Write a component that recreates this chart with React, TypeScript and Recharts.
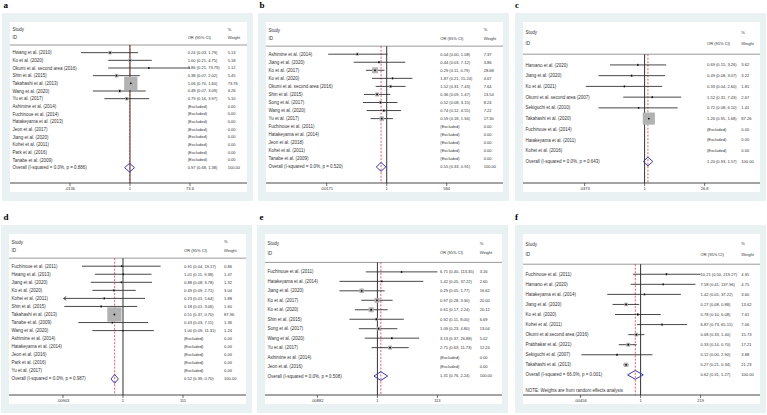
import React from 'react';
import { ComposedChart, XAxis, YAxis, Scatter, ReferenceLine } from 'recharts';

// ---------------- Panel a ----------------
const aStudies = ['Hwang et al. (2010)', 'Ko et al. (2020)', 'Okumi et al. second area (2016)', 'Shin et al. (2015)', 'Takahashi et al. (2013)', 'Wang et al. (2020)', 'Yu et al. (2017)', 'Ashimine et al. (2014)', 'Fuchinoue et al. (2014)', 'Hatakeyama et al. (2013)', 'Jeon et al. (2017)', 'Jiang et al. (2020)', 'Kohei et al. (2011)', 'Park et al. (2016)', 'Tanabe et al. (2009)'];
const aOR = [0.24, 1.0, 3.86, 0.38, 1.06, 0.48, 0.79];
const aLow = [0.03, 0.21, 0.21, 0.07, 0.7, 0.07, 0.16];
const aHigh = [1.79, 4.75, 73.79, 2.02, 1.6, 3.09, 3.97];
const aWeight = [5.13, 5.18, 1.12, 5.45, 73.76, 4.26, 5.1];
const aOverall = [0.97, 0.68, 1.38];
const aOverallLabel = 'Overall  (I-squared = 0.0%, p = 0.886)';
const aTicks = [0.0136, 1, 73.6];
const aTickLabels = ['.0136', '1', '73.6'];

// ---------------- Panel b ----------------
const bStudies = ['Ashimine et al. (2014)', 'Jiang et al. (2020)', 'Ko et al. (2017)', 'Ko et al. (2020)', 'Okumi et al. second area (2016)', 'Shin et al. (2015)', 'Song et al. (2017)', 'Wang et al. (2020)', 'Yu et al. (2017)', 'Fuchinoue et al. (2011)', 'Hatakeyama et al. (2014)', 'Jeon et al. (2018)', 'Kohei et al. (2011)', 'Tanabe et al. (2009)'];
const bOR = [0.044, 0.44, 0.29, 1.87, 1.52, 0.36, 0.52, 0.74, 0.59];
const bLow = [0.002, 0.03, 0.11, 0.21, 0.31, 0.09, 0.08, 0.12, 0.18];
const bHigh = [1.08, 7.12, 0.79, 15.24, 7.43, 1.47, 3.15, 4.55, 1.94];
const bWeight = [7.37, 3.86, 28.68, 4.67, 7.64, 13.54, 8.24, 7.22, 17.3];
const bOverall = [0.55, 0.33, 0.91];
const bOverallLabel = 'Overall  (I-squared = 0.0%, p = 0.520)';
const bTicks = [0.00171, 1, 584];
const bTickLabels = ['.00171', '1', '584'];

// ---------------- Panel c ----------------
const cStudies = ['Hamano et al. (2020)', 'Jiang et al. (2020)', 'Ko et al. (2021)', 'Okumi et al. second area (2007)', 'Sekiguchi et al. (2010)', 'Takahashi et al. (2020)', 'Fuchinoue et al. (2014)', 'Hatakeyama et al. (2011)', 'Kohei et al. (2016)'];
const cOR = [0.69, 0.49, 0.33, 1.52, 0.72, 1.26];
const cLow = [0.15, 0.08, 0.04, 0.31, 0.08, 0.95];
const cHigh = [3.26, 3.07, 2.6, 7.43, 6.1, 1.68];
const cWeight = [3.62, 3.22, 1.81, 2.67, 1.41, 87.26];
const cOverall = [1.2, 0.93, 1.57];
const cOverallLabel = 'Overall  (I-squared = 0.0%, p = 0.643)';
const cTicks = [0.0373, 1, 26.8];
const cTickLabels = ['.0373', '1', '26.8'];

// ---------------- Panel d ----------------
const dStudies = ['Fuchinoue et al. (2011)', 'Hwang et al. (2013)', 'Jiang et al. (2020)', 'Ko et al. (2020)', 'Kohei et al. (2011)', 'Shin et al. (2015)', 'Takahashi et al. (2013)', 'Tanabe et al. (2009)', 'Wang et al. (2020)', 'Ashimine et al. (2014)', 'Hatakeyama et al. (2014)', 'Jeon et al. (2016)', 'Park et al. (2016)', 'Yu et al. (2017)'];
const dOR = [0.91, 1.01, 0.88, 0.49, 0.23, 0.18, 0.51, 0.43, 1.0];
const dLow = [0.04, 0.11, 0.08, 0.09, 0.0095, 0.01, 0.37, 0.03, 0.09];
const dHigh = [19.17, 9.38, 9.78, 2.71, 5.64, 3.06, 0.7, 7.11, 11.31];
const dWeight = [0.86, 1.47, 1.32, 3.04, 1.88, 1.6, 87.96, 1.36, 1.24];
const dOverall = [0.52, 0.39, 0.7];
const dOverallLabel = 'Overall  (I-squared = 0.0%, p = 0.987)';
const dTicks = [0.00903, 1, 111];
const dTickLabels = ['.00903', '1', '111'];
const dArrowLeft = [4];

// ---------------- Panel e ----------------
const eStudies = ['Fuchinoue et al. (2011)', 'Hatakeyama et al. (2014)', 'Jiang et al. (2020)', 'Ko et al. (2017)', 'Ko et al. (2020)', 'Shin et al. (2015)', 'Song et al. (2017)', 'Wang et al. (2020)', 'Yu et al. (2017)', 'Ashimine et al. (2014)', 'Jeon et al. (2016)'];
const eOR = [6.71, 1.42, 0.29, 0.97, 0.61, 0.92, 1.09, 3.13, 2.71];
const eLow = [0.4, 0.05, 0.05, 0.28, 0.17, 0.11, 0.23, 0.37, 0.63];
const eHigh = [113.35, 37.22, 1.77, 3.3, 2.24, 8.0, 4.8, 26.88, 11.73];
const eWeight = [3.16, 2.6, 16.62, 20.0, 20.12, 6.69, 13.04, 5.02, 12.24];
const eOverall = [1.31, 0.76, 2.24];
const eOverallLabel = 'Overall  (I-squared = 0.0%, p = 0.508)';
const eTicks = [0.00882, 1, 113];
const eTickLabels = ['.00882', '1', '113'];

// ---------------- Panel f ----------------
const fStudies = ['Fuchinoue et al. (2011)', 'Hamano et al. (2020)', 'Hatakeyama et al. (2014)', 'Jiang et al. (2020)', 'Ko et al. (2020)', 'Kohei et al. (2011)', 'Okumi et al.second area (2016)', 'Prabhakar et al. (2021)', 'Sekiguchi et al. (2007)', 'Takahashi et al. (2013)'];
const fOR = [10.21, 7.58, 1.42, 0.27, 0.78, 6.87, 0.68, 0.33, 0.12, 0.27];
const fLow = [0.5, 0.41, 0.05, 0.08, 0.1, 0.73, 0.33, 0.14, 0.0049, 0.21];
const fHigh = [219.27, 137.96, 37.22, 0.88, 6.08, 65.15, 1.4, 0.7, 2.9, 0.34];
const fWeight = [4.95, 4.75, 3.6, 13.62, 7.61, 7.06, 15.73, 17.21, 3.88, 21.23];
const fOverall = [0.62, 0.31, 1.27];
const fOverallLabel = 'Overall  (I-squared = 66.0%, p = 0.001)';
const fTicks = [0.00456, 1, 219];
const fTickLabels = ['.00456', '1', '219'];
const fNote = 'NOTE: Weights are from random effects analysis';

// ---------------- styles ----------------
const FONT = '"Liberation Sans", Arial, Helvetica, sans-serif';
const BG = '#eaf1f3';
const TXT = '#333333';
const LINE = '#333333';
const FS_NAME = 4.5;
const FS_NUM = 4.05;
const WHITE_W = 237;
const WHITE_H = 170;
const AXIS_H = 9;
const PLOT_H = WHITE_H - AXIS_H;
const NAME_X = 2.5;

type Spec = {
  letter: string; letterX: number; letterY: number;
  whiteLeft: number; whiteTop: number;
  studies: string[]; or: number[]; low: number[]; high: number[]; weight: number[];
  overall: number[]; overallLabel: string; ticks: number[]; tickLabels: string[];
  nullX: number; orX: number; wX: number; boxScale: number;
  note?: string; arrowLeft?: number[];
};

const SPECS: Spec[] = [
  { letter: 'a', letterX: 3.5, letterY: 0.5, whiteLeft: 10, whiteTop: 21.7, studies: aStudies, or: aOR, low: aLow, high: aHigh, weight: aWeight, overall: aOverall, overallLabel: aOverallLabel, ticks: aTicks, tickLabels: aTickLabels, nullX: 120, orX: 177.7, wX: 217.7, boxScale: 1.55 },
  { letter: 'b', letterX: 259.5, letterY: 0.5, whiteLeft: 266, whiteTop: 21.7, studies: bStudies, or: bOR, low: bLow, high: bHigh, weight: bWeight, overall: bOverall, overallLabel: bOverallLabel, ticks: bTicks, tickLabels: bTickLabels, nullX: 120.7, orX: 174.3, wX: 217.7, boxScale: 1.1 },
  { letter: 'c', letterX: 515, letterY: 0.5, whiteLeft: 522.7, whiteTop: 21.7, studies: cStudies, or: cOR, low: cLow, high: cHigh, weight: cWeight, overall: cOverall, overallLabel: cOverallLabel, ticks: cTicks, tickLabels: cTickLabels, nullX: 121.6, orX: 184, wX: 218.3, boxScale: 1.3 },
  { letter: 'd', letterX: 3.5, letterY: 212.5, whiteLeft: 9.3, whiteTop: 233.7, studies: dStudies, or: dOR, low: dLow, high: dHigh, weight: dWeight, overall: dOverall, overallLabel: dOverallLabel, ticks: dTicks, tickLabels: dTickLabels, nullX: 114, orX: 175, wX: 215, boxScale: 1.52, arrowLeft: dArrowLeft },
  { letter: 'e', letterX: 259.5, letterY: 213, whiteLeft: 265.3, whiteTop: 234.3, studies: eStudies, or: eOR, low: eLow, high: eHigh, weight: eWeight, overall: eOverall, overallLabel: eOverallLabel, ticks: eTicks, tickLabels: eTickLabels, nullX: 112.4, orX: 175, wX: 214.7, boxScale: 1.12 },
  { letter: 'f', letterX: 515, letterY: 213, whiteLeft: 522.7, whiteTop: 234, studies: fStudies, or: fOR, low: fLow, high: fHigh, weight: fWeight, overall: fOverall, overallLabel: fOverallLabel, ticks: fTicks, tickLabels: fTickLabels, nullX: 117.6, orX: 177.6, wX: 218.3, boxScale: 0.95, note: fNote },
];

const fmtCI = (o: number, l: number, h: number) => `${o.toFixed(2)} (${l.toFixed(2)}, ${h.toFixed(2)})`;

type Row = { name?: string; ci?: string; w?: string };

function Panel({ s }: { s: Spec }) {
  const n = s.studies.length;
  const yMax = n + 2;
  const leftW = s.nullX - 60;
  const rightW = WHITE_W - s.nullX - 60;
  const rowH = PLOT_H / (yMax + 4);
  const dHalf = 4.4 / rowH;

  const rows = new Map<string, Row>();
  rows.set('-3', { name: 'Study', w: '%' });
  rows.set('-2', { name: 'ID', ci: 'OR (95% CI)', w: 'Weight' });
  s.studies.forEach((name, i) => {
    const has = i < s.or.length;
    rows.set(String(i), {
      name,
      ci: has ? fmtCI(s.or[i], s.low[i], s.high[i]) : '(Excluded)',
      w: has ? s.weight[i].toFixed(2) : '0.00',
    });
  });
  rows.set(String(n), { name: s.overallLabel, ci: fmtCI(s.overall[0], s.overall[1], s.overall[2]), w: '100.00' });
  if (s.note) rows.set(String(n + 1.5), { name: s.note });
  const rowTicks = Array.from(rows.keys()).map(Number);

  const boxData = s.or.map((v, i) => ({ x: v, y: i, w: s.weight[i] }));
  const diamond = [
    { x: s.overall[1], y: n },
    { x: s.overall[0], y: n - dHalf },
    { x: s.overall[2], y: n },
    { x: s.overall[0], y: n + dHalf },
    { x: s.overall[1], y: n },
  ];
  const arrows = (s.arrowLeft || []).map((i) => ({ x: s.low[i], y: i }));

  const leftTick = (p: any) => {
    const r = rows.get(String(p.payload.value));
    if (!r || !r.name) return <g />;
    return (
      <text x={NAME_X} y={p.y} dy="0.35em" fontSize={FS_NAME} fill={TXT} fontFamily={FONT} textAnchor="start">{r.name}</text>
    );
  };
  const rightTick = (p: any) => {
    const r = rows.get(String(p.payload.value));
    if (!r) return <g />;
    return (
      <g>
        {r.ci && <text x={s.orX} y={p.y} dy="0.35em" fontSize={FS_NUM} fill={TXT} fontFamily={FONT} textAnchor="start">{r.ci}</text>}
        {r.w && <text x={s.wX} y={p.y} dy="0.35em" fontSize={FS_NUM} fill={TXT} fontFamily={FONT} textAnchor="start">{r.w}</text>}
      </g>
    );
  };
  const tickFmt = (v: number) => {
    let best = 0;
    s.ticks.forEach((t, i) => { if (Math.abs(Math.log(t) - Math.log(v)) < Math.abs(Math.log(s.ticks[best]) - Math.log(v))) best = i; });
    return s.tickLabels[best];
  };

  const boxShape = (p: any) => {
    const size = s.boxScale * Math.sqrt(p.payload.w);
    return <rect x={p.cx - size / 2} y={p.cy - size / 2} width={size} height={size} fill="#b2b2b2" />;
  };
  const dotShape = (p: any) => <circle cx={p.cx} cy={p.cy} r={0.9} fill="#000" />;
  const arrowShape = (p: any) => (
    <path d={`M${p.cx + 2.6},${p.cy - 1.9} L${p.cx},${p.cy} L${p.cx + 2.6},${p.cy + 1.9}`} stroke={LINE} strokeWidth={0.9} fill="none" />
  );

  return (
    <>
      <div style={{ position: 'absolute', left: s.whiteLeft - 8, top: s.whiteTop - 9, width: 251, height: 188, background: BG }} />
      <div style={{ position: 'absolute', left: s.whiteLeft, top: s.whiteTop, width: WHITE_W, height: WHITE_H, background: '#fff', overflow: 'hidden' }}>
        <ComposedChart width={WHITE_W} height={WHITE_H} margin={{ top: 0, right: 0, bottom: 0, left: 0 }}>
          <XAxis
            type="number" dataKey="x" scale="log" domain={[s.ticks[0], s.ticks[2]]} allowDataOverflow
            ticks={s.ticks} interval={0} tickFormatter={tickFmt} axisLine={false}
            tickSize={3} tickMargin={1} tickLine={{ stroke: LINE, strokeWidth: 0.7 }}
            tick={{ fontSize: FS_NUM, fill: TXT, fontFamily: FONT }} height={AXIS_H}
          />
          <YAxis yAxisId="l" type="number" dataKey="y" domain={[-4, yMax]} reversed allowDataOverflow
            ticks={rowTicks} interval={0} width={leftW} axisLine={false} tickLine={false} tick={leftTick} />
          <YAxis yAxisId="r" orientation="right" type="number" dataKey="y" domain={[-4, yMax]} reversed allowDataOverflow
            ticks={rowTicks} interval={0} width={rightW} axisLine={false} tickLine={false} tick={rightTick} />

          <ReferenceLine yAxisId="l" segment={[{ x: 1e-12, y: -1 }, { x: 1e12, y: -1 }]} stroke="#555" strokeWidth={0.6} ifOverflow="visible" />
          <ReferenceLine yAxisId="l" segment={[{ x: 1e-12, y: yMax }, { x: 1e12, y: yMax }]} stroke={LINE} strokeWidth={0.9} ifOverflow="visible" />

          <Scatter yAxisId="l" data={boxData} shape={boxShape} isAnimationActive={false} />

          <ReferenceLine yAxisId="l" segment={[{ x: 1, y: -1 }, { x: 1, y: yMax }]} stroke={LINE} strokeWidth={1} ifOverflow="visible" />
          <ReferenceLine yAxisId="l" segment={[{ x: s.overall[0], y: -1 }, { x: s.overall[0], y: yMax }]} stroke="#d03a3a" strokeWidth={0.8} strokeDasharray="2 1.5" ifOverflow="visible" />

          {s.or.map((v, i) => (
            <ReferenceLine key={'ci' + i} yAxisId="l" segment={[{ x: s.low[i], y: i }, { x: s.high[i], y: i }]} stroke={LINE} strokeWidth={0.9} ifOverflow="visible" />
          ))}

          <Scatter yAxisId="l" data={boxData} shape={dotShape} isAnimationActive={false} />
          <Scatter yAxisId="l" data={diamond} shape={() => <g />} line={{ stroke: '#3c3cb0', strokeWidth: 1 }} lineType="joint" fill="none" isAnimationActive={false} />
          {arrows.length > 0 && <Scatter yAxisId="l" data={arrows} shape={arrowShape} isAnimationActive={false} />}
        </ComposedChart>
      </div>
      <div style={{ position: 'absolute', left: s.letterX, top: s.letterY, font: 'bold 9px "Liberation Serif", "Times New Roman", serif', lineHeight: '9px', color: '#000' }}>{s.letter}</div>
    </>
  );
}

export default function App() {
  return (
    <div style={{ position: 'absolute', left: 0, top: 0, width: 767, height: 415, background: '#fff', overflow: 'hidden', fontFamily: FONT }}>
      {SPECS.map((s) => <Panel key={s.letter} s={s} />)}
    </div>
  );
}
